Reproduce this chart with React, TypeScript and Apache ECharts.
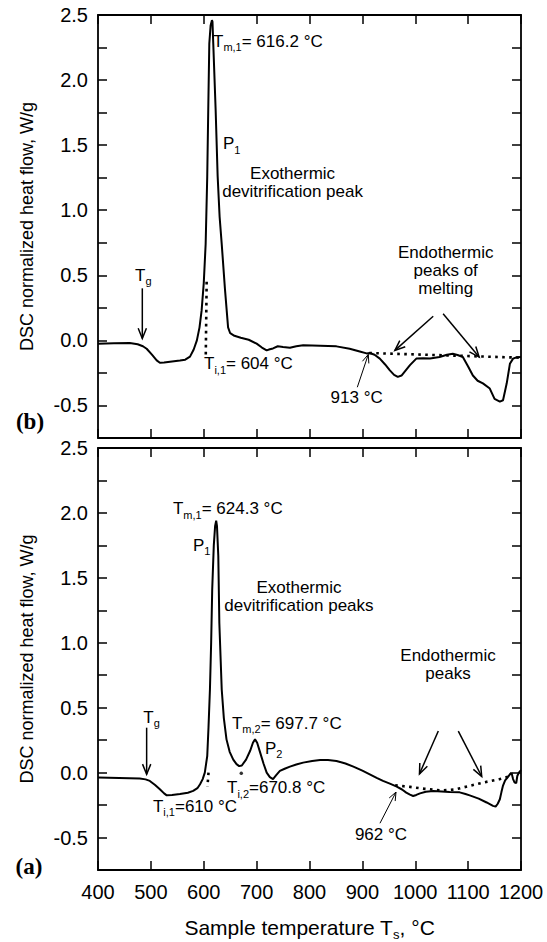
import React, { useEffect, useRef } from 'react';
import * as echarts from 'echarts';

const SANS = '"Liberation Sans", Arial, Helvetica, sans-serif';
const SERIF = '"Liberation Serif", "Times New Roman", serif';

// Axis scales
const X_MIN = 400;
const X_MAX = 1200;
const X_STEP = 100;
const Y_MIN = -0.75;
const Y_MAX = 2.5;
const Y_STEP = 0.25;
const Y_LABEL_STEP = 0.5;

// Panel (b): DSC curve [sample temperature °C, heat flow W/g]
const curveB: [number, number][] = [
  [400, -0.025], [430, -0.022], [460, -0.02], [475, -0.03], [485, -0.045], [492, -0.064],
  [502, -0.11], [511, -0.154], [517, -0.172], [525, -0.17], [540, -0.162], [555, -0.155],
  [565, -0.148], [574, -0.125], [581, -0.07], [587, 0.0], [592, 0.1], [596, 0.23],
  [600, 0.44], [603.6, 0.74], [606.6, 1.26], [608.5, 1.77], [610.5, 2.28], [613, 2.42],
  [615.5, 2.46], [616.5, 2.45], [618, 2.28], [622.5, 1.77], [626.3, 1.26], [630, 0.95],
  [634, 0.74], [640, 0.4], [646, 0.1], [650, 0.055], [658, 0.035], [670, 0.02],
  [685, 0.005], [700, -0.025], [710, -0.055], [719, -0.077], [725, -0.068], [731, -0.062],
  [740, -0.045], [750, -0.05], [763, -0.056], [775, -0.045], [788, -0.038], [805, -0.04],
  [820, -0.042], [851, -0.046], [876, -0.064], [895, -0.085], [908, -0.1], [914, -0.097],
  [923, -0.11], [933, -0.14], [943, -0.185], [952, -0.23], [960, -0.265], [967, -0.28],
  [974, -0.27], [982, -0.23], [990, -0.19], [1002, -0.14], [1015, -0.138], [1028, -0.14],
  [1046, -0.128], [1060, -0.11], [1071, -0.103], [1080, -0.112], [1090, -0.128], [1100, -0.2],
  [1109, -0.27], [1118, -0.31], [1128, -0.33], [1141, -0.37], [1150, -0.45], [1160, -0.47],
  [1166, -0.46], [1173, -0.33], [1179, -0.18], [1185, -0.14], [1192, -0.13], [1200, -0.128],
];

// Panel (a): DSC curve
const curveA: [number, number][] = [
  [400, -0.038], [440, -0.042], [479, -0.046], [490, -0.052], [498, -0.064], [508, -0.095],
  [517, -0.128], [525, -0.16], [530, -0.175], [540, -0.172], [555, -0.165], [570, -0.155],
  [580, -0.141], [588, -0.12], [593, -0.09], [598, -0.05], [602, 0.0], [606.6, 0.128],
  [609, 0.35], [611.7, 0.64], [614, 1.0], [616, 1.41], [619, 1.75], [621.5, 1.9],
  [623.5, 1.94], [625, 1.9], [627.5, 1.67], [629.5, 1.15], [634, 0.64], [638, 0.42],
  [643, 0.256], [649, 0.16], [655.8, 0.1], [662, 0.065], [667, 0.05], [672, 0.055],
  [680, 0.1], [688, 0.17], [693, 0.23], [697, 0.256], [701, 0.23], [707, 0.15],
  [713, 0.07], [719, 0.0], [725, -0.035], [731, -0.05], [737, -0.02], [744, 0.013],
  [753, 0.03], [763, 0.046], [775, 0.062], [788, 0.077], [805, 0.09], [820, 0.097],
  [835, 0.097], [851, 0.09], [868, 0.07], [883, 0.046], [900, 0.015], [914, -0.013],
  [927, -0.04], [939, -0.064], [952, -0.085], [965, -0.108], [975, -0.13], [983, -0.154],
  [990, -0.17], [996, -0.18], [1002, -0.172], [1009, -0.16], [1020, -0.148], [1034, -0.141],
  [1050, -0.145], [1065, -0.15], [1084, -0.152], [1095, -0.165], [1103, -0.175], [1120, -0.2],
  [1135, -0.23], [1147, -0.256], [1152, -0.262], [1156, -0.24], [1160, -0.205], [1163, -0.15],
  [1166, -0.1], [1170, -0.06], [1174, -0.04], [1179, -0.013], [1182, 0.0], [1185, -0.05],
  [1188, -0.077], [1191, -0.08], [1193, -0.026], [1196, 0.0], [1200, 0.02],
];

// Dotted construction lines
const baselineB: [number, number][] = [[913, -0.097], [1200, -0.133]];
const tangentB: [number, number][] = [[605.5, 0.45], [603.8, -0.12]];
const baselineA: [number, number][] = [
  [962, -0.098], [990, -0.11], [1018, -0.125], [1050, -0.137], [1075, -0.13],
  [1100, -0.105], [1130, -0.075], [1160, -0.05], [1180, -0.026],
];
const tangentA1: [number, number][] = [[609, 0.0], [607, -0.11]];
const onsetA2: [number, number][] = [[671, -0.005]];

type Label = { at: [number, number]; text: string; align?: 'left' | 'center' };
type Arrow = { from: [number, number]; to: [number, number]; w: number; head: number };

const labelsB: Label[] = [
  { at: [617.5, 2.3], text: '{n|T}{s|m,1}{n|= 616.2 °C}' },
  { at: [636.4, 1.51], text: '{n|P}{s|1}' },
  { at: [768, 1.21], text: '{q|Exothermic}\n{q|devitrification peak}', align: 'center' },
  { at: [470, 0.5], text: '{n|T}{s|g}' },
  { at: [600.5, -0.18], text: '{n|T}{s|i,1}{n|= 604 °C}' },
  { at: [889.2, -0.435], text: '{q|913 °C}', align: 'center' },
  { at: [1057.6, 0.534], text: '{q|Endothermic}\n{q|peaks of}\n{q|melting}', align: 'center' },
];
const arrowsB: Arrow[] = [
  { from: [483.8, 0.4], to: [483.8, 0.015], w: 1.5, head: 11 },
  { from: [890.4, -0.36], to: [911.2, -0.108], w: 1, head: 9 },
  { from: [1034, 0.185], to: [961.5, -0.077], w: 1.5, head: 11 },
  { from: [1052.7, 0.205], to: [1120.8, -0.128], w: 1.5, head: 11 },
];

const labelsA: Label[] = [
  { at: [541.8, 2.033], text: '{n|T}{s|m,1}{n|= 624.3 °C}' },
  { at: [579.7, 1.75], text: '{n|P}{s|1}' },
  { at: [780, 1.358], text: '{q|Exothermic}\n{q|devitrification peaks}', align: 'center' },
  { at: [653.4, 0.38], text: '{n|T}{s|m,2}{n|= 697.7 °C}' },
  { at: [715.8, 0.187], text: '{n|P}{s|2}' },
  { at: [644, -0.115], text: '{n|T}{s|i,2}{n|=670.8 °C}' },
  { at: [504, -0.26], text: '{n|T}{s|i,1}{n|=610 °C}' },
  { at: [935.2, -0.475], text: '{q|962 °C}', align: 'center' },
  { at: [1062, 0.83], text: '{q|Endothermic}\n{q|peaks}', align: 'center' },
  { at: [485.7, 0.425], text: '{n|T}{s|g}' },
];
const arrowsA: Arrow[] = [
  { from: [492, 0.346], to: [492, -0.013], w: 1.5, head: 11 },
  { from: [933.3, -0.39], to: [963.6, -0.15], w: 1, head: 9 },
  { from: [1043.6, 0.32], to: [1008, -0.01], w: 1.5, head: 11 },
  { from: [1081.4, 0.32], to: [1125.7, -0.03], w: 1.5, head: 11 },
];

const PANEL_TAGS = ['(b)', '(a)'];

const isLabelTick = (v: number) => Math.abs(v / Y_LABEL_STEP - Math.round(v / Y_LABEL_STEP)) < 1e-6;

const richStyles = {
  n: { fontSize: 17, fontFamily: SANS, fill: '#000', color: '#000', lineHeight: 17, verticalAlign: 'middle' },
  s: {
    fontSize: 11, fontFamily: SANS, fill: '#000', color: '#000', lineHeight: 8,
    verticalAlign: 'top', padding: [9, 0, 0, 0],
  },
  q: { fontSize: 17, fontFamily: SANS, fill: '#000', color: '#000', lineHeight: 18, verticalAlign: 'middle' },
};

export default function App() {
  const ref = useRef<HTMLDivElement>(null);

  useEffect(() => {
    if (!ref.current) return;
    const chart = echarts.init(ref.current, undefined, { renderer: 'svg' });

    const frame = { show: true, onZero: false, lineStyle: { color: '#000', width: 1.8 } };
    const tick = { show: true, inside: true, length: 9, lineStyle: { color: '#000', width: 1.5 } };

    const xAxisFor = (gridIndex: number, position: 'top' | 'bottom', labels: boolean, name?: boolean) => ({
      type: 'value', gridIndex, position, min: X_MIN, max: X_MAX, interval: X_STEP,
      axisLine: frame, axisTick: tick, splitLine: { show: false },
      axisLabel: labels
        ? { show: true, fontSize: 20, fontFamily: SANS, color: '#000', margin: 12, formatter: (v: number) => String(v) }
        : { show: false },
      name: name ? '{n|Sample temperature T}{s|s}{n|, °C}' : '',
      nameLocation: 'middle', nameGap: 44,
      nameTextStyle: {
        rich: {
          n: { fontSize: 21, fontFamily: SANS, color: '#000', lineHeight: 26, verticalAlign: 'middle' },
          s: {
            fontSize: 13, fontFamily: SANS, color: '#000', lineHeight: 8,
            verticalAlign: 'top', padding: [14, 0, 0, 0],
          },
        },
      },
    });
    const yAxisFor = (gridIndex: number, position: 'left' | 'right', labels: boolean) => ({
      type: 'value', gridIndex, position, min: Y_MIN, max: Y_MAX, interval: Y_STEP,
      axisLine: frame, axisTick: tick, splitLine: { show: false },
      axisLabel: labels
        ? { show: true, fontSize: 20, fontFamily: SANS, color: '#000', margin: 10,
            formatter: (v: number) => (isLabelTick(v) ? v.toFixed(1) : '') }
        : { show: false },
      name: labels ? 'DSC normalized heat flow, W/g' : '',
      nameLocation: 'middle', nameGap: 62,
      nameTextStyle: { fontSize: 18, fontFamily: SANS, color: '#000' },
    });

    const curve = (data: [number, number][], idx: number) => ({
      type: 'line', xAxisIndex: idx, yAxisIndex: idx, data, showSymbol: false, silent: true,
      lineStyle: { color: '#000', width: 2 }, z: 3,
    });
    const dotted = (data: [number, number][], idx: number) => ({
      type: 'line', xAxisIndex: idx, yAxisIndex: idx, data, showSymbol: false, silent: true,
      lineStyle: { color: '#000', width: 2.6, type: [2.6, 4.4] }, z: 2,
    });

    chart.setOption({
      animation: false,
      backgroundColor: '#fff',
      grid: [
        { left: 98, top: 15, width: 423, height: 423 },
        { left: 98, top: 448, width: 423, height: 423 },
      ],
      xAxis: [
        xAxisFor(0, 'bottom', false),
        xAxisFor(0, 'top', false),
        xAxisFor(1, 'bottom', true, true),
        xAxisFor(1, 'top', false),
      ],
      yAxis: [
        yAxisFor(0, 'left', true),
        yAxisFor(0, 'right', false),
        yAxisFor(1, 'left', true),
        yAxisFor(1, 'right', false),
      ],
      series: [
        curve(curveB, 0),
        dotted(baselineB, 0),
        dotted(tangentB, 0),
        curve(curveA, 2),
        dotted(baselineA, 2),
        dotted(tangentA1, 2),
        {
          type: 'scatter', xAxisIndex: 2, yAxisIndex: 2, data: onsetA2, symbolSize: 3.5, silent: true,
          itemStyle: { color: '#000' },
        },
      ],
    });

    const toPx = (idx: number, p: [number, number]) =>
      chart.convertToPixel({ xAxisIndex: idx, yAxisIndex: idx }, p) as number[];

    const graphics: any[] = [];
    const addLabels = (labels: Label[], idx: number) => {
      labels.forEach((l) => {
        const [x, y] = toPx(idx, l.at);
        graphics.push({
          type: 'text', x, y, silent: true,
          style: {
            text: l.text, rich: richStyles, align: l.align || 'left', verticalAlign: 'middle',
            fill: '#000', font: `17px ${SANS}`,
          },
        });
      });
    };
    const addArrows = (arrows: Arrow[], idx: number) => {
      arrows.forEach((a) => {
        const [x0, y0] = toPx(idx, a.from);
        const [x1, y1] = toPx(idx, a.to);
        const len = Math.hypot(x1 - x0, y1 - y0);
        const dx = (x1 - x0) / len;
        const dy = (y1 - y0) / len;
        const ang = (22 * Math.PI) / 180;
        const arm = (s: number) => {
          const c = Math.cos(s * ang);
          const sn = Math.sin(s * ang);
          const rx = dx * c - dy * sn;
          const ry = dx * sn + dy * c;
          return [x1 - a.head * rx, y1 - a.head * ry];
        };
        graphics.push({
          type: 'line', silent: true,
          shape: { x1: x0, y1: y0, x2: x1, y2: y1 },
          style: { stroke: '#000', lineWidth: a.w },
        });
        graphics.push({
          type: 'polyline', silent: true,
          shape: { points: [arm(1), [x1, y1], arm(-1)] },
          style: { stroke: '#000', lineWidth: a.w, fill: 'none' },
        });
      });
    };
    addLabels(labelsB, 0);
    addArrows(arrowsB, 0);
    addLabels(labelsA, 2);
    addArrows(arrowsA, 2);

    // panel tags
    const tagPos = [[30, 421], [29, 866]];
    PANEL_TAGS.forEach((t, i) => {
      graphics.push({
        type: 'text', x: tagPos[i][0], y: tagPos[i][1], silent: true,
        style: { text: t, align: 'center', verticalAlign: 'middle', fill: '#000',
          font: `bold 23px ${SERIF}` },
      });
    });

    chart.setOption({ graphic: graphics });

    return () => chart.dispose();
  }, []);

  return (
    <div
      ref={ref}
      style={{ position: 'fixed', left: 0, top: 0, width: 547, height: 942, background: '#fff' }}
    />
  );
}
